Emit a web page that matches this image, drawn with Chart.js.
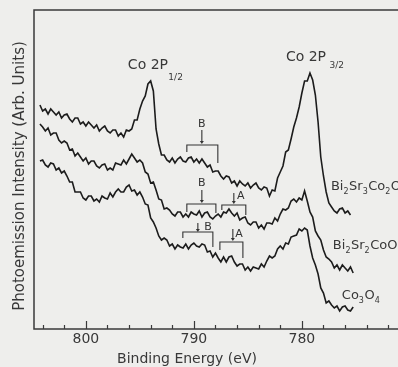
<!DOCTYPE html>
<html>
<head>
<meta charset="utf-8">
<script src="https://cdn.jsdelivr.net/npm/chart.js@4.4.1/dist/chart.umd.min.js"></script>
<style>
  html, body { margin: 0; padding: 0; background: #eeeeec; }
  #wrap { width: 398px; height: 367px; position: relative; }
</style>
</head>
<body>
<div id="wrap"><canvas id="c"></canvas></div>
<script>
// XPS Co 2p spectra, binding energy (eV) vs intensity (arb. units)

const energy = [
  804.25, 804, 803.75, 803.5, 803.25, 803, 802.75, 802.5, 802.25, 802, 801.75, 801.5, 801.25, 801, 800.75, 800.5, 800.25, 800,
  799.75, 799.5, 799.25, 799, 798.75, 798.5, 798.25, 798, 797.75, 797.5, 797.25, 797, 796.75, 796.5, 796.25, 796, 795.75, 795.5,
  795.25, 795, 794.75, 794.5, 794.25, 794, 793.75, 793.5, 793.25, 793, 792.75, 792.5, 792.25, 792, 791.75, 791.5, 791.25, 791,
  790.75, 790.5, 790.25, 790,
  789.75, 789.5, 789.25, 789, 788.75, 788.5, 788.25, 788, 787.75, 787.5, 787.25, 787, 786.75, 786.5, 786.25, 786, 785.75, 785.5,
  785.25, 785, 784.75, 784.5, 784.25, 784, 783.75, 783.5, 783.25, 783, 782.75, 782.5, 782.25, 782, 781.75, 781.5, 781.25, 781,
  780.75, 780.5, 780.25, 780,
  779.75, 779.5, 779.25, 779, 778.75, 778.5, 778.25, 778, 777.75, 777.5, 777.25, 777, 776.75, 776.5, 776.25, 776, 775.75, 775.5,
  775.25,
];

const bi2sr3co2 = [
  224, 218, 220, 215, 220, 217, 214, 217, 211, 214, 215, 210, 207, 211,
  211, 205, 207, 203, 207, 204, 201, 204, 198, 201, 203, 198, 196, 199,
  199, 193, 196, 192, 199, 198, 200, 209, 209, 220, 228, 233, 245, 248,
  238, 200, 185, 174, 174, 169, 167, 171, 166, 170, 172, 168, 167, 171,
  172, 167, 170, 166, 170, 166, 162, 164, 157, 158, 158, 153, 150, 153,
  152, 146, 148, 143, 148, 145, 143, 146, 141, 144, 146, 141, 139, 142,
  141, 133, 139, 138, 151, 157, 163, 177, 179, 190, 202, 211, 222, 236,
  248, 248, 256, 249, 234, 207, 172, 153, 137, 126, 122, 118, 116, 120,
  121, 116, 118, 114, null,
];

const bi2sr2co = [
  205, 202, 198, 201, 194, 196, 196, 189, 186, 188, 186, 179, 180, 173,
  176, 172, 168, 171, 165, 168, 168, 163, 161, 164, 165, 159, 161, 159,
  166, 165, 164, 169, 165, 170, 175, 171, 167, 169, 166, 157, 155, 146,
  147, 139, 130, 129, 120, 121, 119, 115, 113, 117, 117, 112, 115, 112,
  117, 115, 114, 118, 112, 116, 117, 112, 110, 113, 115, 112, 117, 116,
  120, 116, 113, 116, 109, 111, 112, 106, 104, 107, 107, 101, 104, 100,
  106, 106, 105, 111, 108, 115, 120, 119, 121, 128, 130, 127, 131, 129,
  138, 128, 117, 112, 98, 93, 89, 79, 72, 70, 67, 61, 64, 59,
  64, 61, 58, 62, 56,
];

const co3o4 = [
  168, 169, 164, 162, 166, 165, 159, 161, 156, 158, 153, 147, 147, 137,
  137, 137, 131, 129, 133, 133, 128, 130, 127, 133, 131, 130, 136, 132,
  137, 140, 137, 137, 142, 144, 138, 139, 134, 137, 132, 125, 124, 111,
  107, 101, 93, 89, 91, 89, 83, 85, 80, 84, 82, 81, 85, 80,
  84, 86, 83, 82, 85, 84, 77, 78, 72, 76, 71, 67, 72, 67,
  72, 73, 67, 63, 65, 65, 59, 62, 58, 62, 61, 60, 65, 62,
  68, 73, 71, 73, 80, 83, 80, 86, 85, 92, 93, 94, 100, 98,
  101, 99, 83, 71, 64, 55, 41, 36, 26, 28, 24, 21, 23, 18,
  22, 23, 19, 18, 22,
];

const xTickLabels = [800, 790, 780];
const xMinorStep = 2;

// feature brackets: [left eV, right eV, bar height, left foot, right foot]
const brackets = [
  [790.65, 787.78, 184, 177, 166],
  [790.65, 787.96, 125, 117, 116],
  [787.41, 785.19, 124, 119, 114],
  [791.02, 788.24, 97, 91, 82],
  [787.59, 785.46, 87, 79, 71],
];
// arrows: [eV, from, to], letters: [text, eV, height]
const arrows = [
  [789.26, 199, 185],
  [789.26, 139, 126],
  [786.30, 136, 125],
  [789.63, 106, 97],
  [786.39, 100, 88],
];
const letters = [
  ["B", 789.26, 205],
  ["B", 789.26, 146],
  ["A", 785.65, 133],
  ["B", 788.70, 102],
  ["A", 785.83, 95],
];

const INK = "#1c1c1c";
const TXT = "#383838";
const FONT = "'DejaVu Sans', sans-serif";

function toXY(ys) {
  return energy.map((e, i) => ({ x: e, y: ys[i] }));
}

function line(ctx, x1, y1, x2, y2) {
  ctx.beginPath();
  ctx.moveTo(x1, y1);
  ctx.lineTo(x2, y2);
  ctx.stroke();
}

// chemical formula with subscripts, parts = [text, isSub]
function chem(ctx, parts, x, y) {
  ctx.textBaseline = "middle";
  ctx.textAlign = "left";
  for (const [t, sub] of parts) {
    ctx.font = (sub ? "8px " : "13px ") + FONT;
    ctx.fillText(t, x, sub ? y + 5 : y);
    x += ctx.measureText(t).width + (sub ? 0.5 : 0);
  }
}

const decor = {
  id: "decor",
  beforeDraw(chart) {
    const ctx = chart.ctx;
    ctx.save();
    ctx.fillStyle = "#eeeeec";
    ctx.fillRect(0, 0, chart.width, chart.height);
    ctx.restore();
  },
  afterDatasetsDraw(chart) {
    const ctx = chart.ctx;
    const a = chart.chartArea;
    const sx = chart.scales.x, sy = chart.scales.y;
    const X = (e) => sx.getPixelForValue(e);
    const Y = (v) => sy.getPixelForValue(v);
    ctx.save();

    // frame (right side runs off the page)
    ctx.strokeStyle = "#3a3a3a";
    ctx.lineWidth = 1.5;
    ctx.beginPath();
    ctx.moveTo(chart.width, a.top);
    ctx.lineTo(a.left, a.top);
    ctx.lineTo(a.left, a.bottom);
    ctx.lineTo(chart.width, a.bottom);
    ctx.stroke();

    // inward ticks
    ctx.lineWidth = 1.2;
    for (let e = 772; e <= 804; e += xMinorStep) {
      const major = xTickLabels.includes(e);
      const x = Math.round(X(e)) + 0.5;
      line(ctx, x, a.bottom, x, a.bottom - (major ? 8 : 4));
    }

    // tick labels + axis titles
    ctx.fillStyle = TXT;
    ctx.font = "14px " + FONT;
    ctx.textAlign = "center";
    ctx.textBaseline = "middle";
    for (const t of xTickLabels) ctx.fillText(String(t), X(t), 339);
    ctx.fillText("Binding Energy (eV)", 187, 359);
    ctx.save();
    ctx.translate(20, 176);
    ctx.rotate(-Math.PI / 2);
    ctx.font = "15px " + FONT;
    ctx.fillText("Photoemission Intensity (Arb. Units)", 0, 0);
    ctx.restore();

    // peak labels
    ctx.textAlign = "left";
    ctx.font = "14px " + FONT;
    ctx.fillText("Co 2P", X(796.11), Y(264));
    ctx.fillText("Co 2P", X(781.48), Y(271.5));
    ctx.font = "9px " + FONT;
    ctx.fillText("1/2", X(792.36), Y(251));
    ctx.fillText("3/2", X(777.45), Y(263));

    // sample labels
    chem(ctx, [["Bi", 0], ["2", 1], ["Sr", 0], ["3", 1], ["Co", 0], ["2", 1], ["O", 0]], X(777.31), Y(142));
    chem(ctx, [["Bi", 0], ["2", 1], ["Sr", 0], ["2", 1], ["Co", 0], ["O", 0]], X(777.13), Y(83));
    chem(ctx, [["Co", 0], ["3", 1], ["O", 0], ["4", 1]], X(776.30), Y(33));

    // brackets
    ctx.strokeStyle = "#333";
    ctx.lineWidth = 1.1;
    for (const [l, r, h, fl, fr] of brackets) {
      ctx.beginPath();
      ctx.moveTo(X(l), Y(fl));
      ctx.lineTo(X(l), Y(h));
      ctx.lineTo(X(r), Y(h));
      ctx.lineTo(X(r), Y(fr));
      ctx.stroke();
    }
    ctx.fillStyle = "#333";
    for (const [e, from, to] of arrows) {
      const x = X(e);
      line(ctx, x, Y(from), x, Y(to) - 2);
      ctx.beginPath();
      ctx.moveTo(x - 2, Y(to) - 3);
      ctx.lineTo(x + 2, Y(to) - 3);
      ctx.lineTo(x, Y(to));
      ctx.closePath();
      ctx.fill();
    }
    ctx.font = "11px " + FONT;
    ctx.textAlign = "center";
    for (const [t, e, h] of letters) ctx.fillText(t, X(e), Y(h));

    ctx.restore();
  },
};

const series = [bi2sr3co2, bi2sr2co, co3o4];

new Chart(document.getElementById("c"), {
  type: "line",
  data: {
    datasets: series.map((s) => ({
      data: toXY(s),
      borderColor: INK,
      borderWidth: 1.6,
      pointRadius: 0,
      tension: 0,
      fill: false,
    })),
  },
  options: {
    responsive: true,
    maintainAspectRatio: false,
    animation: false,
    devicePixelRatio: 1,
    layout: { padding: { left: 34, right: 0, top: 10, bottom: 38 } },
    scales: {
      x: { type: "linear", reverse: true, min: 771.1, max: 804.8, display: false },
      y: { min: 0, max: 319, display: false },
    },
    plugins: { legend: { display: false }, tooltip: { enabled: false } },
  },
  plugins: [decor],
});
</script>
</body>
</html>
